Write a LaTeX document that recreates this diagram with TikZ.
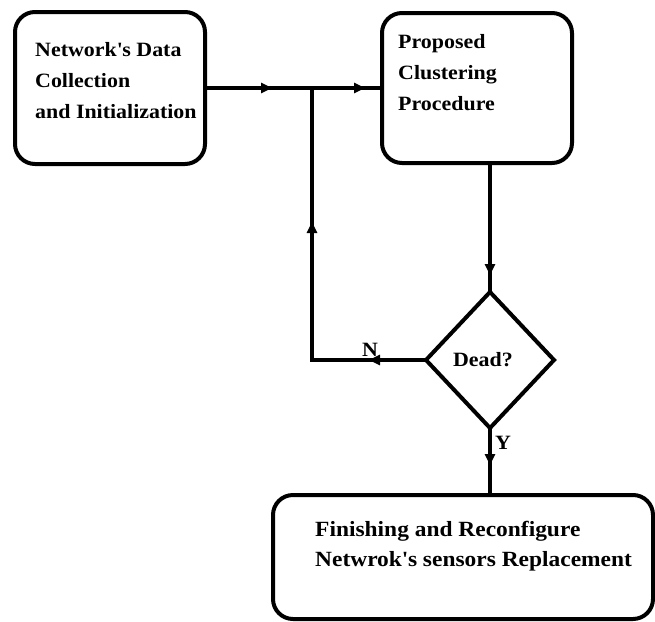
\documentclass[tikz,border=0pt]{standalone}
\usepackage{fontspec}
\setmainfont{Liberation Serif}[FakeStretch=1.08]
\usetikzlibrary{shapes.geometric,arrows.meta,decorations.markings}

\begin{document}
\begin{tikzpicture}[x=1pt,y=-1pt,
    every node/.style={font=\fontsize{20.3}{31}\selectfont\bfseries},
    box/.style={draw,line width=4pt,rounded corners=20pt,inner sep=0pt,outer sep=0pt},
    boxtext/.style={anchor=north west,align=left,inner sep=0pt},
    flow/.style={line width=4pt},
    midtip/.style={postaction={decorate,decoration={markings,
        mark=at position #1 with {\arrow{Triangle[length=11pt,width=10pt]}}}}}]
    \useasboundingbox (0,0) rectangle (655,621);

    % blocks
    \node[box,minimum width=190pt,minimum height=152pt] (collect) at (110,88) {};
    \node[box,minimum width=190pt,minimum height=150pt] (cluster) at (477,88) {};
    \node[draw,diamond,line width=4pt,inner sep=0pt,outer sep=0pt,
          minimum width=128pt,minimum height=136pt] (dead) at (490,360) {\hspace*{-14pt}Dead?};
    \node[box,minimum width=380pt,minimum height=124pt] (finish) at (463,557) {};

    \node[boxtext] (collecttxt) at (35,42) {Network\textquotesingle s Data\\Collection\\and Initialization};
    \node[boxtext] (clustertxt) at (398,34) {Proposed\\Clustering\\Procedure};
    \node[boxtext,font=\fontsize{21.7}{30}\selectfont\bfseries] (finishtxt) at (315,521)
        {Finishing and Reconfigure\\Netwrok\textquotesingle s sensors Replacement};

    \coordinate (join) at (312,88);
    \coordinate (back) at (312,360);

    % connectors
    \draw[flow,midtip=67pt,midtip=160pt] (collect.east) -- (join) -- (cluster.west);
    \draw[flow,midtip=112pt] (cluster.south -| dead.north) -- (dead.north);
    \draw[flow,midtip=57pt,midtip=252pt] (dead.west) -- (back) -- (join);
    \draw[flow,midtip=37pt] (dead.south) -- (dead.south |- finish.north);

    \node (no) at (370,350) {N};
    \node (yes) at (503,443) {Y};
\end{tikzpicture}
\end{document}
